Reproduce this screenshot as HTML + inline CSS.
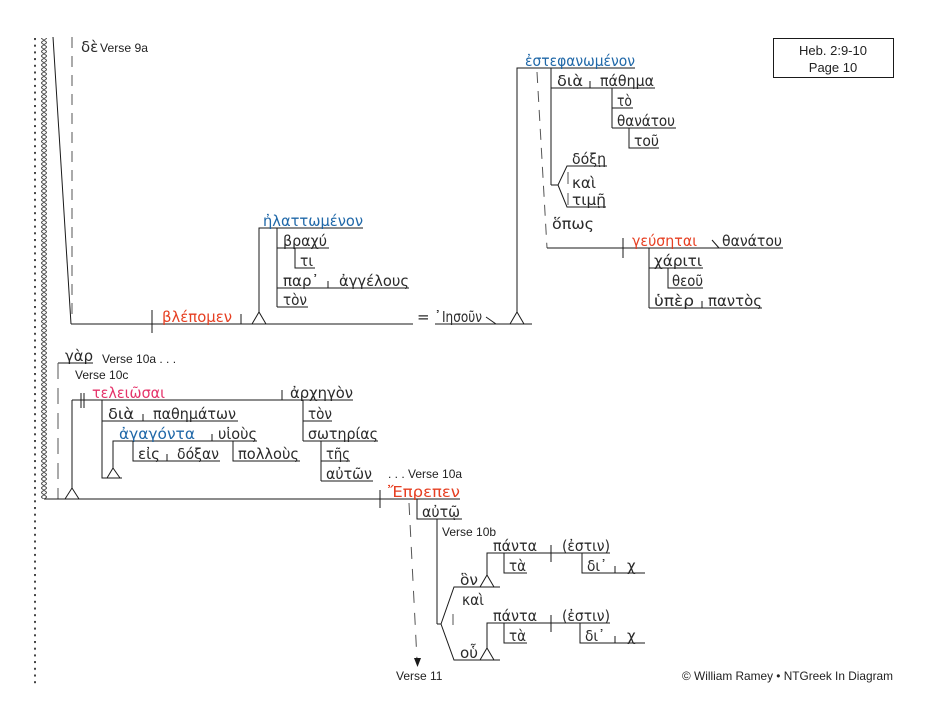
<!DOCTYPE html>
<html><head><meta charset="utf-8">
<style>
html,body{margin:0;padding:0;background:#fff;}
svg{display:block;}
.g{font-family:"DejaVu Sans","Liberation Sans",sans-serif;font-size:15px;fill:#2a2a2a;}
.r{fill:#e63f22;}
.b{fill:#2068a8;}
.p{fill:#e5336a;}
.a{font-family:"Liberation Sans",Arial,sans-serif;font-size:12px;fill:#222;}
.l{stroke:#1a1a1a;stroke-width:1;fill:none;}
.d{stroke:#555;stroke-width:1;fill:none;stroke-dasharray:11,8;}
</style></head>
<body>
<svg width="933" height="720" viewBox="0 0 933 720" xmlns="http://www.w3.org/2000/svg">
<defs>
<pattern id="dots" x="34" y="38" width="4" height="6.7" patternUnits="userSpaceOnUse">
<rect x="0" y="0" width="2" height="2" fill="#444"/>
</pattern>
<pattern id="chain" x="41" y="38" width="6" height="4.5" patternUnits="userSpaceOnUse">
<path d="M0,0 L6,4.5 M6,0 L0,4.5" stroke="#555" stroke-width="1" fill="none"/>
</pattern>
</defs>
<rect x="0" y="0" width="933" height="720" fill="#fff"/>
<!-- left decoration -->
<rect x="34" y="38" width="2" height="646" fill="url(#dots)"/>
<rect x="41" y="38" width="6" height="461" fill="url(#chain)"/>

<!-- ===== TOP SECTION (Verse 9a) ===== -->
<path class="l" d="M53,37 L71,324"/>
<path class="d" d="M72,37 V316"/>
<text class="g" x="81" y="52">δὲ</text>
<text class="a" x="100" y="52" textLength="48" lengthAdjust="spacingAndGlyphs">Verse 9a</text>

<path class="l" d="M71,324 H413"/>
<path class="l" d="M152,310 V333"/>
<text class="g r" x="162" y="322" textLength="70" lengthAdjust="spacingAndGlyphs">βλέπομεν</text>
<path class="l" d="M241,314 V324"/>
<path class="l" d="M252,324 L259,312 L266,324"/>
<path class="l" d="M259,312 V228 H363"/>
<text class="g b" x="263" y="226" textLength="100" lengthAdjust="spacingAndGlyphs">ἠλαττωμένον</text>
<path class="l" d="M277,228 V307"/>
<path class="l" d="M277,248 H329"/>
<text class="g" x="283" y="246" textLength="44" lengthAdjust="spacingAndGlyphs">βραχύ</text>
<path class="l" d="M295,248 V268 H315"/>
<text class="g" x="300" y="266" textLength="13" lengthAdjust="spacingAndGlyphs">τι</text>
<path class="l" d="M277,288 H409"/>
<text class="g" x="283" y="286" textLength="36" lengthAdjust="spacingAndGlyphs">παρ᾽</text>
<path class="l" d="M328,281 V288"/>
<text class="g" x="339" y="286" textLength="70" lengthAdjust="spacingAndGlyphs">ἀγγέλους</text>
<path class="l" d="M277,307 H308"/>
<text class="g" x="283" y="305" textLength="24" lengthAdjust="spacingAndGlyphs">τὸν</text>

<text class="g" x="417" y="322">=</text>
<path class="l" d="M435,324 H532"/>
<text class="g" x="434" y="322">᾽</text>
<text class="g" x="442" y="322" textLength="40" lengthAdjust="spacingAndGlyphs">Ιησοῦν</text>
<path class="l" d="M486,317 L496,324"/>
<path class="l" d="M510,324 L517,312 L524,324"/>
<path class="l" d="M517,312 V68 H635"/>
<text class="g b" x="525" y="66" textLength="110" lengthAdjust="spacingAndGlyphs">ἐστεφανωμένον</text>
<path class="d" d="M537,72 L547,248"/>
<path class="l" d="M551,68 V185"/>
<path class="l" d="M551,88 H655"/>
<text class="g" x="557" y="86" textLength="26" lengthAdjust="spacingAndGlyphs">διὰ</text>
<path class="l" d="M590,81 V88"/>
<text class="g" x="600" y="86" textLength="54" lengthAdjust="spacingAndGlyphs">πάθημα</text>
<path class="l" d="M612,88 V128"/>
<path class="l" d="M612,108 H633"/>
<text class="g" x="617" y="106" textLength="15" lengthAdjust="spacingAndGlyphs">τὸ</text>
<path class="l" d="M612,128 H676"/>
<text class="g" x="617" y="126" textLength="58" lengthAdjust="spacingAndGlyphs">θανάτου</text>
<path class="l" d="M629,128 V148 H659"/>
<text class="g" x="634" y="146" textLength="25" lengthAdjust="spacingAndGlyphs">τοῦ</text>
<path class="l" d="M551,185 H558 L567,166 H607 M558,185 L567,207 H606"/>
<text class="g" x="572" y="164" textLength="34" lengthAdjust="spacingAndGlyphs">δόξῃ</text>
<text class="g" x="572" y="188" textLength="24" lengthAdjust="spacingAndGlyphs">καὶ</text>
<text class="g" x="572" y="205" textLength="34" lengthAdjust="spacingAndGlyphs">τιμῇ</text>
<path class="d" d="M568,172 V206" style="stroke-dasharray:12,9"/>
<text class="g" x="552" y="229" textLength="42" lengthAdjust="spacingAndGlyphs">ὅπως</text>
<path class="l" d="M547,248 H783"/>
<path class="l" d="M623,238 V258"/>
<text class="g r" x="632" y="246" textLength="65" lengthAdjust="spacingAndGlyphs">γεύσηται</text>
<path class="l" d="M712,240 L719,248"/>
<text class="g" x="722" y="246" textLength="60" lengthAdjust="spacingAndGlyphs">θανάτου</text>
<path class="l" d="M649,248 V308"/>
<path class="l" d="M649,268 H703"/>
<text class="g" x="654" y="266" textLength="48" lengthAdjust="spacingAndGlyphs">χάριτι</text>
<path class="l" d="M668,268 V288 H703"/>
<text class="g" x="672" y="286" textLength="31" lengthAdjust="spacingAndGlyphs">θεοῦ</text>
<path class="l" d="M649,308 H762"/>
<text class="g" x="654" y="306" textLength="40" lengthAdjust="spacingAndGlyphs">ὑπὲρ</text>
<path class="l" d="M702,301 V308"/>
<text class="g" x="708" y="306" textLength="54" lengthAdjust="spacingAndGlyphs">παντὸς</text>

<!-- title box -->
<rect x="773.5" y="38.5" width="120" height="39" fill="none" stroke="#1a1a1a" stroke-width="1"/>
<text class="a" x="833" y="55" text-anchor="middle" style="font-size:13px">Heb. 2:9-10</text>
<text class="a" x="833" y="72" text-anchor="middle" style="font-size:13px">Page 10</text>

<!-- ===== MIDDLE SECTION (Verse 10) ===== -->
<text class="g" x="65" y="361" textLength="28" lengthAdjust="spacingAndGlyphs">γὰρ</text>
<path class="l" d="M58,363 H93"/>
<path class="d" d="M58,363 V499" style="stroke-dasharray:16,9"/>
<text class="a" x="102" y="363">Verse 10a . . .</text>
<text class="a" x="75" y="379">Verse 10c</text>

<path class="l" d="M72,400 H353"/>
<path class="l" d="M81,393 V408 M84,393 V408"/>
<text class="g p" x="92" y="398" textLength="73" lengthAdjust="spacingAndGlyphs">τελειῶσαι</text>
<path class="l" d="M282,390 V400"/>
<text class="g" x="290" y="398" textLength="63" lengthAdjust="spacingAndGlyphs">ἀρχηγὸν</text>
<path class="l" d="M72,400 V488"/>
<path class="l" d="M65,499 L72,488 L79,499"/>
<path class="l" d="M44,499 H460"/>

<path class="l" d="M102,400 V478 H122"/>
<path class="l" d="M102,421 H238"/>
<text class="g" x="108" y="419" textLength="26" lengthAdjust="spacingAndGlyphs">διὰ</text>
<path class="l" d="M143,414 V421"/>
<text class="g" x="153" y="419" textLength="83" lengthAdjust="spacingAndGlyphs">παθημάτων</text>
<path class="l" d="M107,478 L113,468 L120,478"/>
<path class="l" d="M113,468 V441 H257"/>
<text class="g b" x="119" y="439" textLength="76" lengthAdjust="spacingAndGlyphs">ἀγαγόντα</text>
<path class="l" d="M212,434 V441"/>
<text class="g" x="218" y="439" textLength="39" lengthAdjust="spacingAndGlyphs">υἱοὺς</text>
<path class="l" d="M133,441 V461 H220"/>
<text class="g" x="138" y="459" textLength="22" lengthAdjust="spacingAndGlyphs">εἰς</text>
<path class="l" d="M167,454 V461"/>
<text class="g" x="177" y="459" textLength="42" lengthAdjust="spacingAndGlyphs">δόξαν</text>
<path class="l" d="M233,441 V461 H300"/>
<text class="g" x="238" y="459" textLength="61" lengthAdjust="spacingAndGlyphs">πολλοὺς</text>

<path class="l" d="M303,400 V441"/>
<path class="l" d="M303,421 H332"/>
<text class="g" x="308" y="419" textLength="24" lengthAdjust="spacingAndGlyphs">τὸν</text>
<path class="l" d="M303,441 H378"/>
<text class="g" x="308" y="439" textLength="70" lengthAdjust="spacingAndGlyphs">σωτηρίας</text>
<path class="l" d="M321,441 V481"/>
<path class="l" d="M321,461 H350"/>
<text class="g" x="326" y="459" textLength="24" lengthAdjust="spacingAndGlyphs">τῆς</text>
<path class="l" d="M321,481 H373"/>
<text class="g" x="326" y="479" textLength="46" lengthAdjust="spacingAndGlyphs">αὐτῶν</text>

<path class="l" d="M380,490 V508"/>
<text class="a" x="388" y="478">. . . Verse 10a</text>
<text class="g r" x="388" y="497" textLength="72" lengthAdjust="spacingAndGlyphs">Ἔπρεπεν</text>
<path class="l" d="M417,499 V519 H462"/>
<text class="g" x="422" y="517" textLength="38" lengthAdjust="spacingAndGlyphs">αὐτῷ</text>

<!-- dashed arrow to Verse 11 -->
<path class="d" d="M409,503 L417,660" style="stroke-dasharray:12,10"/>
<path d="M414,658 L417.5,667 L421,658 Z" fill="#1a1a1a"/>
<text class="a" x="396" y="680">Verse 11</text>

<path class="l" d="M437,519 V624"/>
<text class="a" x="442" y="536">Verse 10b</text>
<path class="l" d="M437,624 H441 L454,587 H500 M441,624 L454,660 H500"/>
<text class="g" x="460" y="585" textLength="18" lengthAdjust="spacingAndGlyphs">ὃν</text>
<text class="g" x="462" y="605" textLength="22" lengthAdjust="spacingAndGlyphs">καὶ</text>
<path class="d" d="M453,614 V630"/>
<text class="g" x="460" y="658" textLength="18" lengthAdjust="spacingAndGlyphs">οὗ</text>

<!-- upper clause -->
<path class="l" d="M480,587 L487,575 L494,587"/>
<path class="l" d="M487,575 V553 H610"/>
<text class="g" x="493" y="551" textLength="44" lengthAdjust="spacingAndGlyphs">πάντα</text>
<path class="l" d="M551,545 V562"/>
<text class="g" x="562" y="551" textLength="48" lengthAdjust="spacingAndGlyphs">(ἐστιν)</text>
<path class="l" d="M504,553 V573 H527"/>
<text class="g" x="509" y="571" textLength="17" lengthAdjust="spacingAndGlyphs">τὰ</text>
<path class="l" d="M582,553 V573 H645"/>
<text class="g" x="587" y="571" textLength="20" lengthAdjust="spacingAndGlyphs">δι᾽</text>
<path class="l" d="M615,566 V573"/>
<text class="g" x="627" y="571">χ</text>

<!-- lower clause -->
<path class="l" d="M480,660 L487,648 L494,660"/>
<path class="l" d="M487,648 V623 H610"/>
<text class="g" x="493" y="621" textLength="44" lengthAdjust="spacingAndGlyphs">πάντα</text>
<path class="l" d="M551,615 V632"/>
<text class="g" x="562" y="621" textLength="48" lengthAdjust="spacingAndGlyphs">(ἐστιν)</text>
<path class="l" d="M504,623 V643 H527"/>
<text class="g" x="509" y="641" textLength="17" lengthAdjust="spacingAndGlyphs">τὰ</text>
<path class="l" d="M580,623 V643 H645"/>
<text class="g" x="585" y="641" textLength="20" lengthAdjust="spacingAndGlyphs">δι᾽</text>
<path class="l" d="M615,636 V643"/>
<text class="g" x="627" y="641">χ</text>

<!-- footer -->
<text class="a" x="682" y="680" textLength="211" lengthAdjust="spacingAndGlyphs">© William Ramey • NTGreek In Diagram</text>
</svg>
</body></html>
